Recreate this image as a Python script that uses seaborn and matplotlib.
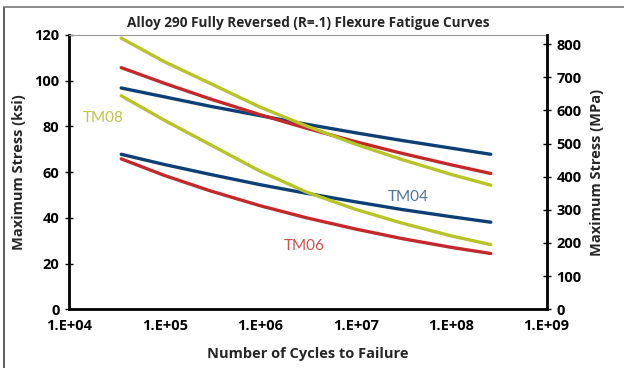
import numpy as np
import pandas as pd
import matplotlib
matplotlib.use("Agg")
import matplotlib.pyplot as plt
from matplotlib.lines import Line2D
import seaborn as sns

cycles = [3.5e4, 1e5, 3e5, 1e6, 3e6, 1e7, 3e7, 1e8, 2.6e8]

# maximum stress (ksi) for each curve
tm08_high = [118.6, 108.2, 98.8, 88.4, 80.3, 72.2, 65.6, 59.0, 54.3]
tm06_high = [105.7, 98.8, 92.0, 85.1, 79.3, 73.3, 68.3, 63.2, 59.4]
tm04_high = [96.8, 92.9, 88.8, 84.7, 81.0, 77.2, 73.9, 70.5, 67.8]
tm08_low = [93.4, 82.6, 72.0, 60.4, 51.4, 43.7, 37.8, 32.1, 28.3]
tm04_low = [67.8, 63.3, 59.0, 54.5, 50.8, 47.0, 43.7, 40.5, 38.1]
tm06_low = [65.8, 58.5, 51.8, 45.3, 40.1, 35.1, 31.0, 27.1, 24.4]

x_ticks = [1e4, 1e5, 1e6, 1e7, 1e8, 1e9]
x_labels = ["1.E+04", "1.E+05", "1.E+06", "1.E+07", "1.E+08", "1.E+09"]
ksi_ticks = [0, 20, 40, 60, 80, 100, 120]
mpa_ticks = [0, 100, 200, 300, 400, 500, 600, 700, 800]

BLUE = "#0d3f74"
RED = "#c3282b"
GREEN = "#b6c428"

curves = {
    "TM04 high": tm04_high,
    "TM06 high": tm06_high,
    "TM08 high": tm08_high,
    "TM04 low": tm04_low,
    "TM06 low": tm06_low,
    "TM08 low": tm08_low,
}
palette = {
    "TM04 high": BLUE, "TM04 low": BLUE,
    "TM06 high": RED, "TM06 low": RED,
    "TM08 high": GREEN, "TM08 low": GREEN,
}

rows = []
for name, vals in curves.items():
    for c, s in zip(cycles, vals):
        rows.append({"curve": name, "cycles": c, "ksi": s})
df = pd.DataFrame(rows)

sns.set_style("white")
plt.rcParams["font.family"] = ["Open Sans", "DejaVu Sans"]
BOLD = dict(fontweight="bold")

fig = plt.figure(figsize=(6.24, 3.68), dpi=100)
ax = fig.add_axes([0.111, 0.1595, 0.765, 0.7455])

sns.lineplot(data=df, x="cycles", y="ksi", hue="curve", palette=palette,
             linewidth=2.4, legend=False, ax=ax, sort=True)

ax.set_xscale("log")
ax.set_xlim(1e4, 1e9)
ax.set_ylim(0, 120)
ax.set_xticks(x_ticks)
ax.set_xticklabels(x_labels)
ax.minorticks_off()
ax.set_yticks(ksi_ticks)

for side in ["left", "bottom"]:
    ax.spines[side].set_color("black")
    ax.spines[side].set_linewidth(2)
ax.spines["top"].set_color("#999999")
ax.spines["top"].set_linewidth(0.8)
ax.spines["right"].set_visible(False)

ax.tick_params(axis="both", direction="inout", length=6, width=1,
               colors="black", labelsize=10.5, pad=4)
for lab in ax.get_xticklabels() + ax.get_yticklabels():
    lab.set_fontweight("bold")

ax.set_xlabel("Number of Cycles to Failure", fontsize=10.5, labelpad=10, **BOLD)
ax.set_ylabel("Maximum Stress (ksi)", fontsize=10.5, labelpad=6, **BOLD)
ax.set_title("Alloy 290 Fully Reversed (R=.1) Flexure Fatigue Curves",
             fontsize=9.8, pad=6, **BOLD)

ax2 = ax.twinx()
ax2.set_ylim(0, 120 * 6.895)
ax2.set_yticks(mpa_ticks)
for side in ["left", "bottom", "top"]:
    ax2.spines[side].set_visible(False)
ax2.spines["right"].set_color("black")
ax2.spines["right"].set_linewidth(2)
ax2.tick_params(axis="y", direction="inout", length=6, width=1,
                colors="black", labelsize=10.5, pad=4)
for lab in ax2.get_yticklabels():
    lab.set_fontweight("bold")
ax2.set_ylabel("Maximum Stress (MPa)", fontsize=10.5, labelpad=6, **BOLD)
ax2.grid(False)

# series labels
lab_font = dict(fontsize=11, family=["Lato", "DejaVu Sans"], va="center", ha="left")
ax.text(1.39e4, 83.8, "TM08", color="#bcc64a", **lab_font)
ax.text(2.17e7, 49.2, "TM04", color="#4f7398", **lab_font)
ax.text(1.77e6, 27.7, "TM06", color="#d05050", **lab_font)

# outer frame (left and top edges)
fig.add_artist(Line2D([0.006, 0.006], [0.0, 0.982], color="#444444", lw=1.2))
fig.add_artist(Line2D([0.006, 1.0], [0.982, 0.982], color="#777777", lw=1.2))

fig.savefig("out.png", dpi=100)
